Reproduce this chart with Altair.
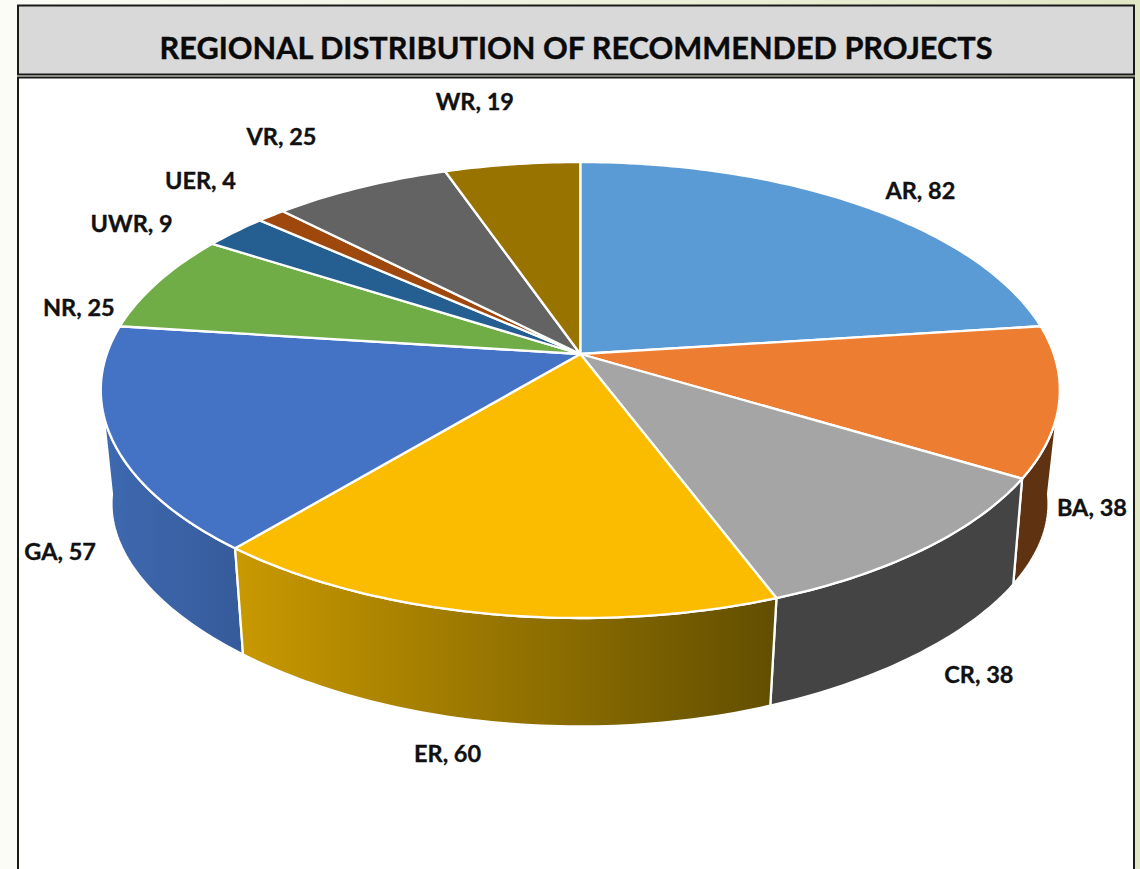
import math
import altair as alt

# Recommended projects per region
regions = ["AR", "BA", "CR", "ER", "GA", "NR", "UWR", "UER", "VR", "WR"]
projects = [82, 38, 38, 60, 57, 25, 9, 4, 25, 19]
face_colors = ["#5B9BD5", "#ED7D31", "#A5A5A5", "#FBBC00", "#4472C4",
               "#70AD47", "#255E91", "#9E480E", "#636363", "#997300"]

# Label placement in pie-plane terms: distance from the centre (1 = rim)
# and an angular shift from the slice's mid-angle, in degrees.
label_radius = [1.165, 1.155, 1.358, 1.415, 1.2385, 1.1175, 1.23, 1.2796, 1.38, 1.4138]
label_shift = [2.9, 20.6, 9.5, -0.7, -17.5, -8.6, -5.2, 0.7, -1.0, -1.5]

TITLE = "REGIONAL DISTRIBUTION OF RECOMMENDED PROJECTS"
FONT = "Lato"
W, H = 1140, 869


def top_point(theta_deg, r=1.0):
    """Perspective view of a point on the pie's upper face."""
    t = math.radians(theta_deg)
    w = 1 + 0.158 * r * math.cos(t)
    return [580.3 + 473.5 * r * math.sin(t) / w, 354 - 222.3 * r * math.cos(t) / w]


def bottom_point(theta_deg):
    """Perspective view of a point on the pie's lower rim."""
    t = math.radians(theta_deg)
    w = 1 + 0.2 * math.cos(t)
    a = 435 + 25 * math.sin(t) ** 2
    return [580 + a * math.sin(t) / w, 464 - 210 * math.cos(t) / w]


def arc(fn, start, end):
    n = max(2, int(abs(end - start)) + 1)
    return [fn(start + (end - start) * i / n) for i in range(n + 1)]


def feature(ring, **props):
    ring = ring + [ring[0]]
    return {"type": "Feature", "properties": props,
            "geometry": {"type": "Polygon", "coordinates": [ring]}}


def box(x0, y0, x1, y1):
    return feature([[x0, y0], [x1, y0], [x1, y1], [x0, y1]])


# Slice angles, clockwise from twelve o'clock
total = sum(projects)
edges = [0.0]
for v in projects:
    edges.append(edges[-1] + v / total * 360)

faces = [
    feature([[580.3, 354]] + arc(top_point, edges[i], edges[i + 1]), region=regions[i])
    for i in range(len(regions))
]


def wall(i, top_start=None, top_end=None, bottom_start=None, bottom_end=None):
    a0, a1 = edges[i], edges[i + 1]
    upper = arc(top_point, top_start or a0, top_end or a1)
    lower = arc(bottom_point, bottom_end or a1, bottom_start or a0)
    return feature(upper + lower, region=regions[i])


labels = []
for i, name in enumerate(regions):
    mid = (edges[i] + edges[i + 1]) / 2 + label_shift[i]
    lon, lat = top_point(mid, label_radius[i])
    labels.append({"lon": lon, "lat": lat, "label": f"{name}, {projects[i]}"})


def gradient(left, right):
    return alt.LinearGradient(
        gradient="linear", x1=0, x2=1, y1=0, y2=0,
        stops=[alt.GradientStop(color=left, offset=0),
               alt.GradientStop(color=right, offset=1)],
    )


def shapes(features, **mark):
    return alt.Chart(alt.Data(values=features)).mark_geoshape(**mark).project(type="identity")


page = shapes([box(0, 0, W, H)], fill=gradient("#fbfcf6", "#e1e7c4"), stroke=None)
title_band = shapes([box(18, 5.5, 1134, 74.5)], fill="#d9d9d9", stroke="#1a1a1a", strokeWidth=2)
plot_box = (
    alt.Chart(alt.Data(values=[{"a": 1}]))
    .mark_rect(fill="white", stroke="#1a1a1a", strokeWidth=2)
    .encode(x=alt.value(18), x2=alt.value(1134), y=alt.value(77.5), y2=alt.value(885))
)

edge = dict(stroke="white", strokeWidth=2.3, strokeJoin="round")
walls = [
    shapes([wall(1, top_start=105, bottom_start=98)], fill="#5f3312", **edge),
    shapes([wall(4, top_end=255, bottom_end=262)], fill=gradient("#3e69b0", "#365b9b"), **edge),
    shapes([wall(2)], fill="#444444", **edge),
    shapes([wall(3)], fill=gradient("#c99900", "#614e00"), **edge),
]

top = shapes(faces, **edge).encode(
    fill=alt.Fill("properties.region:N",
                  scale=alt.Scale(domain=regions, range=face_colors), legend=None)
)

value_labels = alt.Chart(alt.Data(values=labels)).mark_text(
    font=FONT, fontWeight="bold", fontSize=23.5, color="#111111",
    stroke="#111111", strokeWidth=0.35, dy=2,
    align="center", baseline="middle",
).encode(longitude="lon:Q", latitude="lat:Q", text="label:N")

title_text = alt.Chart(alt.Data(values=[{"t": TITLE}])).mark_text(
    font=FONT, fontWeight="bold", fontSize=30.7, color="#0a0a0a",
    stroke="#0a0a0a", strokeWidth=0.4,
    align="center", baseline="middle",
).encode(x=alt.value(576), y=alt.value(50), text="t:N")

chart = alt.layer(page, title_band, plot_box, *walls, top, value_labels, title_text).properties(
    width=W, height=H, padding=0, autosize=alt.AutoSizeParams(type="none"),
    background="white",
).configure_view(stroke=None)

chart.save("out.html", embed_options={"renderer": "svg", "actions": False})
